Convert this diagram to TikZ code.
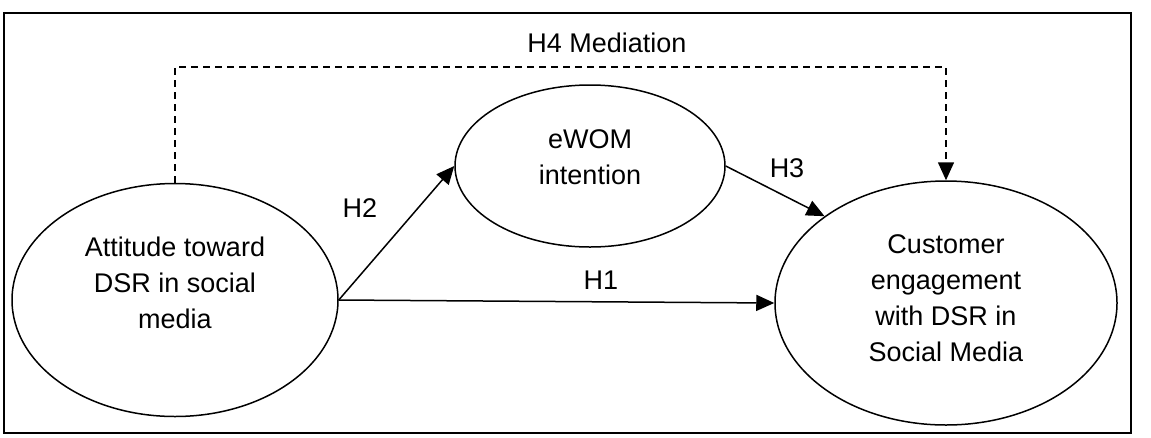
\documentclass[tikz,border=0pt]{standalone}
\usepackage{fontspec}
\setmainfont{Liberation Sans}
\usetikzlibrary{shapes.geometric,arrows.meta}
\begin{document}
\begin{tikzpicture}[x=1pt,y=-1pt,
  construct/.style={draw,ellipse,line width=1.5pt,inner sep=0pt},
  ctext/.style={align=center,inner sep=0pt,font=\fontsize{27}{36}\selectfont},
  lbl/.style={font=\fontsize{27}{36}\selectfont,inner sep=0pt},
  link/.style={line width=1.5pt,-{Triangle[length=18pt,width=16pt]}},
  dlink/.style={link,dash pattern=on 7pt off 5pt}]
\useasboundingbox (0,0) rectangle (1151,437);
\draw[line width=2pt] (4,13) rectangle (1131,433);
\node[construct,minimum width=326pt,minimum height=233pt] (att) at (175,300) {};
\node[ctext] (attT) at (175,283) {Attitude toward\\DSR in social\\media};
\node[construct,minimum width=270pt,minimum height=162pt] (ewom) at (590,166) {};
\node[ctext] (ewomT) at (590,157) {eWOM\\intention};
\node[construct,minimum width=342pt,minimum height=244pt] (ce) at (946,303) {};
\node[ctext] (ceT) at (946,298) {Customer\\engagement\\with DSR in\\Social Media};
\coordinate (a1) at (175,67);
\coordinate (a2) at (946,67);
\draw[dlink] (att.north) -- (a1) -- (a2) -- (ce.north);
\node[lbl] (h4) at (607,43) {H4 Mediation};
\draw[link] (att.east) -- (ewom.west);
\draw[link] (att.east) -- (ce.west);
\draw[link] (ewom.east) -- (ce.north west);
\node[lbl] (h2) at (360,208) {H2};
\node[lbl] (h1) at (601,280) {H1};
\node[lbl] (h3) at (787,168) {H3};
\end{tikzpicture}
\end{document}
